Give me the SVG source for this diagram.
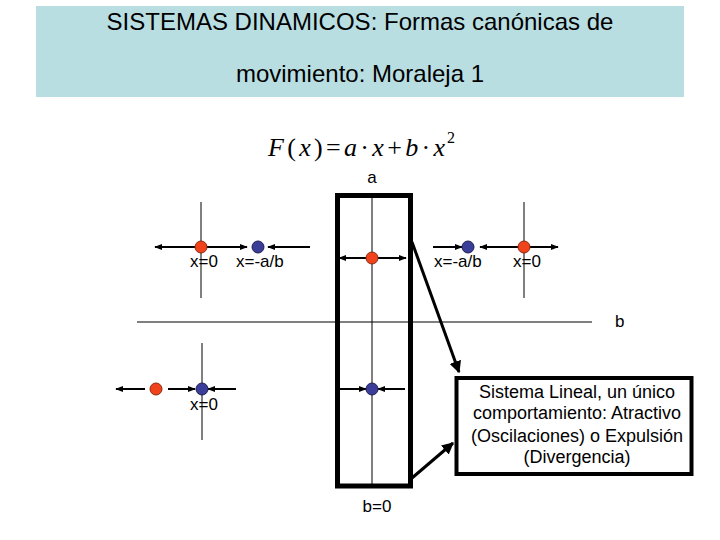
<svg xmlns="http://www.w3.org/2000/svg" width="720" height="540" viewBox="0 0 720 540">
<defs>
<marker id="ah" viewBox="0 0 10 10" refX="9" refY="5" markerWidth="4" markerHeight="4" orient="auto-start-reverse" markerUnits="strokeWidth">
<path d="M0,1 L10,5 L0,9 z" fill="#000"/>
</marker>
<marker id="ahb" viewBox="0 0 10 10" refX="9" refY="5" markerWidth="4" markerHeight="4" orient="auto" markerUnits="strokeWidth">
<path d="M0,0 L10,5 L0,10 z" fill="#000"/>
</marker>
</defs>
<style>
text{font-family:"Liberation Sans",Arial,sans-serif;fill:#000}
.t{font-size:24px}
.l{font-size:17px}
.bx{font-size:18px}
.axis{stroke:#000;stroke-width:1;fill:none}
.arr{stroke:#000;stroke-width:2;fill:none;marker-end:url(#ah)}
.red{fill:#F0431C;stroke:#8A2A10;stroke-width:1}
.blue{fill:#3A3E98;stroke:#1E2050;stroke-width:1}
.thick{fill:none;stroke:#000;stroke-width:5}
.con{stroke:#000;stroke-width:3;fill:none;marker-end:url(#ahb)}
.f{font-family:"Liberation Serif","Times New Roman",serif;font-size:26px}
.sup{font-family:"Liberation Serif","Times New Roman",serif;font-size:16px}
</style>
<g id="title">
<rect x="36" y="6" width="648" height="91" fill="#B9DEE2"/>
<text class="t" x="360" y="30" text-anchor="middle">SISTEMAS DINAMICOS: Formas canónicas de</text>
<text class="t" x="360" y="82" text-anchor="middle">movimiento: Moraleja 1</text>
</g>
<g id="formula">
<text class="f" x="268" y="156" textLength="177" lengthAdjust="spacing"><tspan font-style="italic">F</tspan>(<tspan font-style="italic">x</tspan>)=<tspan font-style="italic">a</tspan>·<tspan font-style="italic">x</tspan>+<tspan font-style="italic">b</tspan>·<tspan font-style="italic">x</tspan></text>
<text class="sup" x="447" y="143">2</text>
</g>
<g id="axes">
<line class="axis" x1="137" y1="322" x2="592" y2="322"/>
<text class="l" x="372" y="183" text-anchor="middle">a</text>
<text class="l" x="615" y="327">b</text>
</g>
<g id="center-box">
<rect class="thick" x="337.5" y="195.5" width="73" height="290.5"/>
<line class="axis" x1="372" y1="196" x2="372" y2="486"/>
<text class="l" x="377" y="512" text-anchor="middle">b=0</text>
</g>
<g id="top-left">
<line class="axis" x1="201" y1="202" x2="201" y2="298"/>
<line class="arr" x1="197" y1="247" x2="155" y2="247"/>
<line class="arr" x1="206" y1="247" x2="247" y2="247"/>
<line class="arr" x1="310" y1="247" x2="268" y2="247"/>
<circle class="red" cx="201" cy="247" r="6"/>
<circle class="blue" cx="258" cy="247" r="6"/>
<text class="l" x="190" y="267">x=0</text>
<text class="l" x="236" y="267">x=-a/b</text>
</g>
<g id="top-center">
<line class="arr" x1="366" y1="258" x2="339" y2="258"/>
<line class="arr" x1="378" y1="258" x2="406" y2="258"/>
<circle class="red" cx="372" cy="258" r="6"/>
</g>
<g id="top-right">
<line class="axis" x1="524" y1="202" x2="524" y2="298"/>
<line class="arr" x1="433" y1="247" x2="462" y2="247"/>
<line class="arr" x1="519" y1="247" x2="480" y2="247"/>
<line class="arr" x1="529" y1="247" x2="558" y2="247"/>
<circle class="blue" cx="468" cy="247" r="6"/>
<circle class="red" cx="524" cy="247" r="6"/>
<text class="l" x="434" y="267">x=-a/b</text>
<text class="l" x="513" y="267">x=0</text>
</g>
<g id="bottom-left">
<line class="axis" x1="202" y1="343" x2="202" y2="440"/>
<line class="arr" x1="145" y1="389" x2="116" y2="389"/>
<line class="arr" x1="168" y1="389" x2="195" y2="389"/>
<line class="arr" x1="236" y1="389" x2="208" y2="389"/>
<circle class="red" cx="156" cy="389" r="6"/>
<circle class="blue" cx="202" cy="389" r="6"/>
<text class="l" x="190" y="410">x=0</text>
</g>
<g id="bottom-center">
<line class="arr" x1="339" y1="389" x2="366" y2="389"/>
<line class="arr" x1="405" y1="389" x2="378" y2="389"/>
<circle class="blue" cx="372" cy="389" r="6"/>
</g>
<g id="note">
<rect x="456.5" y="378" width="235" height="96" fill="#fff" stroke="#000" stroke-width="4"/>
<text class="bx" x="577" y="398" text-anchor="middle">Sistema Lineal, un único</text>
<text class="bx" x="577" y="419" text-anchor="middle">comportamiento: Atractivo</text>
<text class="bx" x="577" y="442" text-anchor="middle">(Oscilaciones) o Expulsión</text>
<text class="bx" x="577" y="463" text-anchor="middle">(Divergencia)</text>
</g>
<g id="connectors">
<line class="con" x1="412" y1="242" x2="459" y2="372"/>
<line class="con" x1="412" y1="478" x2="453" y2="443"/>
</g>
</svg>
